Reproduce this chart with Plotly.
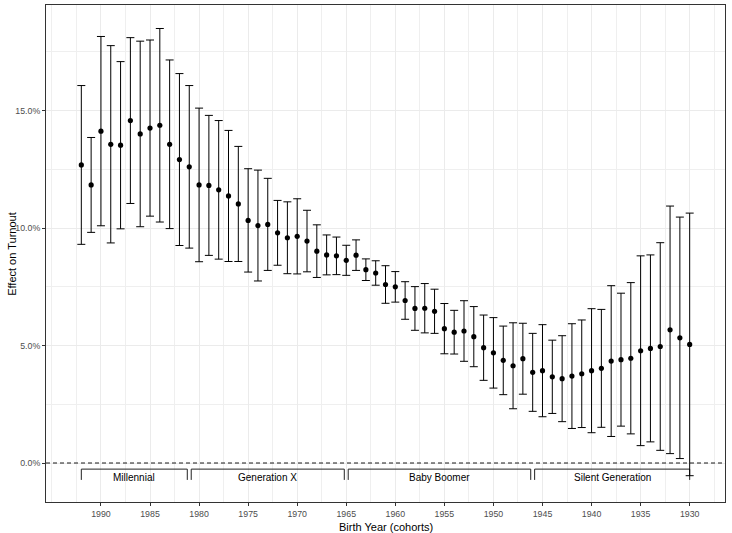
import plotly.graph_objects as go

# birth cohorts, newest first (axis is reversed)
years = list(range(1992, 1929, -1))

# point estimate of the effect on turnout (%)
effect = [12.69, 11.84, 14.13, 13.57, 13.53, 14.58, 14.01, 14.26, 14.38, 13.57,
          12.92, 12.61, 11.84, 11.82, 11.63, 11.37, 11.03, 10.33, 10.11, 10.16,
          9.80, 9.59, 9.65, 9.45, 9.02, 8.86, 8.82, 8.63, 8.85, 8.23,
          8.09, 7.60, 7.50, 6.92, 6.58, 6.59, 6.46, 5.72, 5.57, 5.62,
          5.38, 4.91, 4.69, 4.37, 4.14, 4.44, 3.86, 3.93, 3.67, 3.59,
          3.70, 3.80, 3.93, 4.03, 4.34, 4.40, 4.46, 4.78, 4.88, 4.96,
          5.67, 5.33, 5.05]

# half width of the 95% interval (%)
ci_half = [3.38, 2.02, 4.03, 4.20, 3.56, 3.53, 3.95, 3.75, 4.12, 3.59,
           3.66, 3.46, 3.27, 2.98, 2.95, 2.79, 2.45, 2.20, 2.36, 1.96,
           1.38, 1.53, 1.60, 1.31, 1.12, 0.85, 0.80, 0.64, 0.65, 0.46,
           0.52, 0.80, 0.65, 0.80, 0.93, 1.05, 0.94, 1.07, 0.93, 1.29,
           1.28, 1.39, 1.50, 1.46, 1.83, 1.51, 1.66, 1.96, 1.56, 1.83,
           2.23, 2.29, 2.64, 2.51, 3.21, 2.83, 3.22, 4.04, 3.98, 4.42,
           5.27, 5.14, 5.59]

# generation brackets
gen_names = ["Millennial", "Generation X", "Baby Boomer", "Silent Generation"]
gen_start = [1992, 1980.8, 1964.8, 1945.8]
gen_end = [1981.2, 1965.2, 1946.2, 1930]

x_ticks = list(range(1930, 1995, 5))
y_ticks = [0, 5, 10, 15]
y_labels = ["0.0%", "5.0%", "10.0%", "15.0%"]

FONT = "Liberation Sans, Arial, sans-serif"
br_top, br_bot, br_txt = -0.26, -0.72, -0.60

fig = go.Figure()

for name, a, b in zip(gen_names, gen_start, gen_end):
    fig.add_trace(go.Scatter(x=[a, a, b, b], y=[br_bot, br_top, br_top, br_bot],
                             mode="lines", line=dict(color="#222222", width=1),
                             hoverinfo="skip", showlegend=False))
    fig.add_annotation(x=(a + b) / 2, y=br_txt, text=name, showarrow=False,
                       font=dict(family=FONT, size=10, color="black"))

fig.add_hline(y=0, line=dict(color="black", width=0.9, dash="4px,3px"))

fig.add_trace(go.Scatter(
    x=years, y=effect, mode="markers",
    marker=dict(color="black", size=5.2),
    error_y=dict(type="data", array=ci_half, color="black", thickness=1, width=4),
    showlegend=False))

# axis titles placed by hand to match the ggplot layout
fig.add_annotation(xref="paper", yref="paper", x=0.5, y=-0.050,
                   xanchor="center", yanchor="middle",
                   text="Birth Year (cohorts)", showarrow=False,
                   font=dict(family=FONT, size=11, color="black"))
fig.add_annotation(xref="paper", yref="paper", x=-0.051, y=0.5,
                   xanchor="center", yanchor="middle",
                   text="Effect on Turnout", textangle=-90, showarrow=False,
                   font=dict(family=FONT, size=11, color="black"))

axis_common = dict(
    showline=True, linecolor="#333333", linewidth=1, mirror=True,
    ticks="outside", ticklen=3, tickcolor="#333333", tickwidth=1,
    showgrid=True, gridcolor="#EBEBEB", gridwidth=1, zeroline=False,
    tickfont=dict(family=FONT, size=8.8, color="#4D4D4D"),
)

fig.update_layout(
    width=732, height=533,
    margin=dict(l=46, r=7, t=5, b=31),
    plot_bgcolor="white", paper_bgcolor="white",
    font=dict(family=FONT),
    xaxis=dict(range=[1995.6, 1926.4], tickvals=x_ticks,
               minor=dict(dtick=2.5, tick0=1930, showgrid=True,
                          gridcolor="#EFEFEF", gridwidth=0.5, ticks=""),
               **axis_common),
    yaxis=dict(range=[-1.66, 19.5], tickvals=y_ticks, ticktext=y_labels,
               minor=dict(dtick=2.5, tick0=0, showgrid=True,
                          gridcolor="#EFEFEF", gridwidth=0.5, ticks=""),
               **axis_common),
)

# drop the page's default body margin so the figure sits at the window corner
fig.write_html("out.html", config={"displayModeBar": False},
               post_script="document.body.style.margin='0';")
